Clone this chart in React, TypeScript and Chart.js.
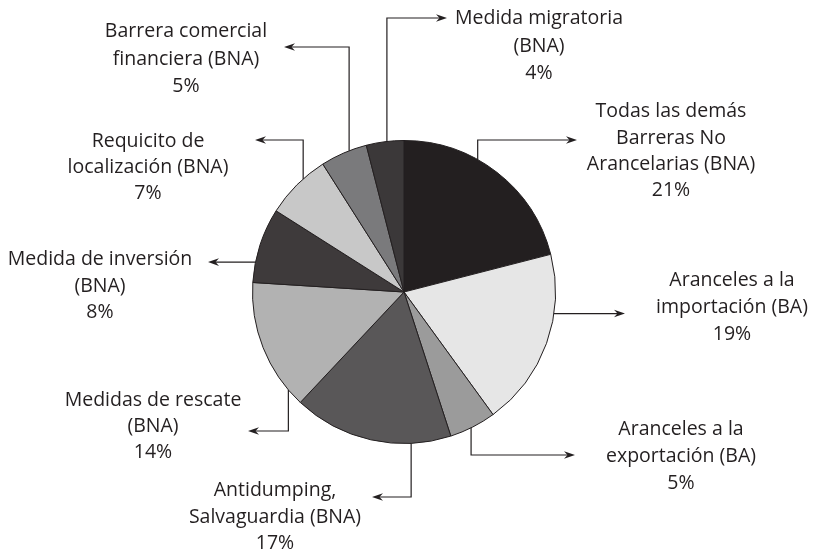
import React, { useEffect, useRef } from "react";
import { Chart, registerables } from "chart.js";

Chart.register(...registerables);

const categories: string[][] = [
  ["Todas las demás", "Barreras No", "Arancelarias (BNA)"],
  ["Aranceles a la", "importación (BA)"],
  ["Aranceles a la", "exportación (BA)"],
  ["Antidumping,", "Salvaguardia (BNA)"],
  ["Medidas de rescate", "(BNA)"],
  ["Medida de inversión", "(BNA)"],
  ["Requicito de", "localización (BNA)"],
  ["Barrera comercial", "financiera (BNA)"],
  ["Medida migratoria", "(BNA)"],
];

const values: number[] = [21, 19, 5, 17, 14, 8, 7, 5, 4];

const colors: string[] = [
  "#231f20",
  "#e6e6e6",
  "#9b9b9b",
  "#595758",
  "#b2b2b2",
  "#3e3a3b",
  "#c8c8c8",
  "#7a7a7c",
  "#3b3839",
];

// layout of callouts: fraction within slice where the connector leaves the pie,
// direction, elbow y, arrow tip x, label centre x, label line ys
type Callout = { t: number; dir: "v" | "h"; elbowY: number; tipX: number; cx: number; ys: number[] };
const callouts: Callout[] = [
  { t: 0.385, dir: "v", elbowY: 140, tipX: 577, cx: 671, ys: [111, 138, 164, 190] },
  { t: 0.33, dir: "h", elbowY: 0, tipX: 625, cx: 732, ys: [280, 307, 334] },
  { t: 0.54, dir: "v", elbowY: 455, tipX: 575, cx: 681, ys: [429, 456, 483] },
  { t: 0.25, dir: "v", elbowY: 497, tipX: 372, cx: 275, ys: [490, 517, 543] },
  { t: 0.13, dir: "v", elbowY: 431, tipX: 248, cx: 153, ys: [400, 426, 452] },
  { t: 0.27, dir: "h", elbowY: 0, tipX: 208, cx: 100, ys: [259, 286, 312] },
  { t: 0.63, dir: "v", elbowY: 140, tipX: 255, cx: 148, ys: [141, 167, 193] },
  { t: 0.62, dir: "v", elbowY: 47, tipX: 284, cx: 186, ys: [31, 59, 86] },
  { t: 0.55, dir: "v", elbowY: 18, tipX: 447, cx: 539, ys: [18, 46, 73] },
];

const TEXT_COLOR = "#231f20";

const calloutPlugin = {
  id: "callouts",
  afterDraw(chart: any) {
    const ctx = chart.ctx as CanvasRenderingContext2D;
    const meta = chart.getDatasetMeta(0);
    ctx.save();
    meta.data.forEach((arc: any, i: number) => {
      const c = callouts[i];
      if (!c) return;
      const { x, y, startAngle, endAngle, outerRadius } = arc.getProps(
        ["x", "y", "startAngle", "endAngle", "outerRadius"],
        true
      );
      const a = startAngle + (endAngle - startAngle) * c.t;
      const sx = x + Math.cos(a) * outerRadius;
      const sy = y + Math.sin(a) * outerRadius;
      const ey = c.dir === "v" ? c.elbowY : sy;
      ctx.strokeStyle = TEXT_COLOR;
      ctx.lineWidth = 1.2;
      ctx.beginPath();
      ctx.moveTo(sx, sy);
      if (c.dir === "v") ctx.lineTo(sx, ey);
      const dirX = c.tipX > sx ? 1 : -1;
      ctx.lineTo(c.tipX - dirX * 6, ey);
      ctx.stroke();
      // arrowhead
      ctx.fillStyle = TEXT_COLOR;
      ctx.beginPath();
      ctx.moveTo(c.tipX, ey);
      ctx.lineTo(c.tipX - dirX * 11, ey - 3.8);
      ctx.lineTo(c.tipX - dirX * 7.5, ey);
      ctx.lineTo(c.tipX - dirX * 11, ey + 3.8);
      ctx.closePath();
      ctx.fill();
      // label
      const lines = [...categories[i], values[i] + "%"];
      ctx.font = '19.5px "Open Sans"';
      ctx.textAlign = "center";
      ctx.textBaseline = "middle";
      lines.forEach((ln, k) => {
        ctx.fillText(ln, c.cx, c.ys[k]);
      });
    });
    ctx.restore();
  },
};

export default function App() {
  const ref = useRef<HTMLCanvasElement | null>(null);
  useEffect(() => {
    document.body.style.margin = "0";
    const canvas = ref.current;
    if (!canvas) return;
    const chart = new Chart(canvas, {
      type: "pie",
      data: {
        labels: categories.map((c) => c.join(" ")),
        datasets: [
          {
            data: values,
            backgroundColor: colors,
            borderColor: "#231f20",
            borderWidth: 1,
          },
        ],
      },
      options: {
        responsive: false,
        animation: false,
        layout: { padding: { left: 252, right: 258, top: 140, bottom: 108 } },
        plugins: {
          legend: { display: false },
          tooltip: { enabled: false },
        },
      },
      plugins: [calloutPlugin],
    });
    return () => chart.destroy();
  }, []);
  return (
    <div style={{ width: 814, height: 552, background: "#fff" }}>
      <canvas ref={ref} width={814} height={552} />
    </div>
  );
}
